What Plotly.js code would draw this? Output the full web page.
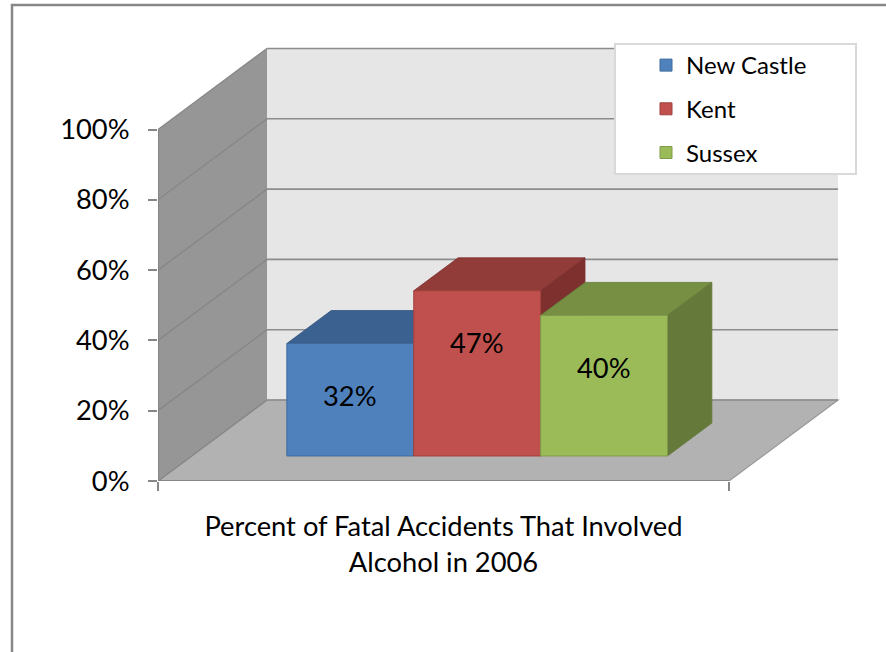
<!DOCTYPE html>
<html>
<head>
<meta charset="utf-8">
<script src="https://cdn.plot.ly/plotly-3.0.1.min.js"></script>
<style>html,body{margin:0;padding:0;background:#fff;}#chart{width:886px;height:652px;}</style>
</head>
<body>
<div id="chart"></div>
<script>
// ---- data ----
const category = ['Percent of Fatal Accidents That Involved<br>Alcohol in 2006'];
const seriesNames = ['New Castle', 'Kent', 'Sussex'];
const values = [0.32, 0.47, 0.40];
const tickValues = [0, 0.2, 0.4, 0.6, 0.8, 1.0];

// ---- styles ----
const frontColors = ['#4F81BD', '#C0504D', '#9BBB59'];
const edgeColors = ['#3F6A9C', '#A0403D', '#7F9B48'];
const topColors = ['#3B6190', '#923C3A', '#768F43'];
const sideColors = ['#33557E', '#7E302E', '#65793A'];

// ---- 3D geometry (in axis units) ----
const W = 886, H = 652;
const M = {l: 158, r: 46, t: 45, b: 171};
const plotW = W - M.l - M.r, plotH = H - M.t - M.b;
const unitX = 571, unitY = 351.5;          // px per category / per 100%
const DX = 109 / unitX, DY = 81 / unitY;   // full depth offset
const A = 0.309, B = 0.716;                // bar front / back depth fraction
const groupW = 2 / 3, barW = groupW / 3;
const xMin = -0.5, xMax = -0.5 + plotW / unitX;
const yMax = plotH / unitY;

const px2paperX = p => (p - M.l) / plotW;
const px2paperY = p => (H - M.b - p) / plotH;
const f = v => v.toFixed(5);
const poly = pts => 'M ' + pts.map(p => f(p[0]) + ',' + f(p[1])).join(' L ') + ' Z';

const shapes = [];
const gridCol = '#8C8C8C';
// back wall
shapes.push({type: 'path', xref: 'x', yref: 'y', layer: 'below',
  path: poly([[xMin + DX, DY], [0.5 + DX, DY], [0.5 + DX, 1 + DY], [xMin + DX, 1 + DY]]),
  fillcolor: '#E6E6E6', line: {width: 0}});
// floor
shapes.push({type: 'path', xref: 'x', yref: 'y', layer: 'below',
  path: poly([[xMin, 0], [0.5, 0], [0.5 + DX, DY], [xMin + DX, DY]]),
  fillcolor: '#B2B2B2', line: {color: '#999999', width: 1.2}});
// back wall gridlines
tickValues.forEach(v => shapes.push({type: 'line', xref: 'x', yref: 'y', layer: 'below',
  x0: xMin + DX, x1: 0.5 + DX, y0: v + DY, y1: v + DY, line: {color: gridCol, width: 1.6}}));
// left wall
shapes.push({type: 'path', xref: 'x', yref: 'y', layer: 'below',
  path: poly([[xMin, 0], [xMin + DX, DY], [xMin + DX, 1 + DY], [xMin, 1]]),
  fillcolor: '#969696', line: {width: 0}});
// left wall gridlines
tickValues.forEach(v => shapes.push({type: 'line', xref: 'x', yref: 'y', layer: 'below',
  x0: xMin, x1: xMin + DX, y0: v, y1: v + DY, line: {color: '#878787', width: 1.4}}));
// front axis lines
shapes.push({type: 'line', xref: 'x', yref: 'y', layer: 'below',
  x0: xMin, x1: 0.5, y0: 0, y1: 0, line: {color: '#868686', width: 2}});
shapes.push({type: 'line', xref: 'x', yref: 'y', layer: 'below',
  x0: xMin, x1: xMin, y0: 0, y1: 1, line: {color: '#868686', width: 2}});

// bars: top and side faces
const dDX = (B - A) * DX, dDY = (B - A) * DY;
const annotations = [];
values.forEach((v, i) => {
  const x0 = -groupW / 2 + i * barW + A * DX, x1 = x0 + barW;
  const yB = A * DY, yT = yB + v;
  shapes.push({type: 'path', xref: 'x', yref: 'y', layer: 'below',
    path: poly([[x0, yT], [x1, yT], [x1 + dDX, yT + dDY], [x0 + dDX, yT + dDY]]),
    fillcolor: topColors[i], line: {color: sideColors[i], width: 0.8}});
  shapes.push({type: 'path', xref: 'x', yref: 'y', layer: 'below',
    path: poly([[x1, yB], [x1, yT], [x1 + dDX, yT + dDY], [x1 + dDX, yB + dDY]]),
    fillcolor: sideColors[i], line: {color: sideColors[i], width: 0.8}});
  annotations.push({xref: 'x', yref: 'y', x: (x0 + x1) / 2, y: yT - 0.148,
    text: Math.round(v * 100) + '%', showarrow: false,
    font: {size: 27.3, color: '#000'}});
});

// legend box and outer border
shapes.push({type: 'rect', xref: 'paper', yref: 'paper', layer: 'above',
  x0: px2paperX(615), x1: px2paperX(856), y0: px2paperY(174), y1: px2paperY(44),
  fillcolor: '#FFFFFF', line: {color: '#D9D9D9', width: 2}});
shapes.push({type: 'rect', xref: 'paper', yref: 'paper', layer: 'above',
  x0: px2paperX(12), x1: px2paperX(900), y0: px2paperY(670), y1: px2paperY(5),
  fillcolor: 'rgba(0,0,0,0)', line: {color: '#878787', width: 2.5}});

const traces = values.map((v, i) => ({
  type: 'bar', name: seriesNames[i], legendgroup: seriesNames[i],
  x: category, y: [v], base: [A * DY], width: [barW],
  offset: [-groupW / 2 + i * barW + A * DX],
  marker: {color: frontColors[i], line: {color: edgeColors[i], width: 1}},
  hoverinfo: 'skip'
}));

const layout = {
  width: W, height: H,
  margin: M,
  paper_bgcolor: '#FFFFFF', plot_bgcolor: 'rgba(0,0,0,0)',
  font: {family: 'Lato, "Liberation Sans", sans-serif', color: '#000'},
  barmode: 'overlay',
  showlegend: true,
  legend: {x: px2paperX(646), y: px2paperY(43), xanchor: 'left', yanchor: 'top',
    bgcolor: 'rgba(0,0,0,0)', borderwidth: 0, font: {size: 24},
    traceorder: 'grouped', tracegroupgap: 9.5},
  xaxis: {type: 'category', range: [xMin, xMax], tickson: 'boundaries',
    ticks: 'outside', ticklen: 9, tickwidth: 2, tickcolor: '#868686',
    showgrid: false, showline: false, zeroline: false, fixedrange: true,
    tickfont: {size: 27.3}, ticklabelstandoff: 27},
  yaxis: {range: [0, yMax], tickvals: tickValues, tickformat: '.0%',
    ticks: 'outside', ticklen: 9, tickwidth: 2, tickcolor: '#868686',
    showgrid: false, showline: false, zeroline: false, fixedrange: true,
    tickfont: {size: 27.3}, ticklabelstandoff: 13},
  shapes: shapes,
  annotations: annotations
};

Plotly.newPlot('chart', traces, layout, {displayModeBar: false, staticPlot: true});
</script>
</body>
</html>
